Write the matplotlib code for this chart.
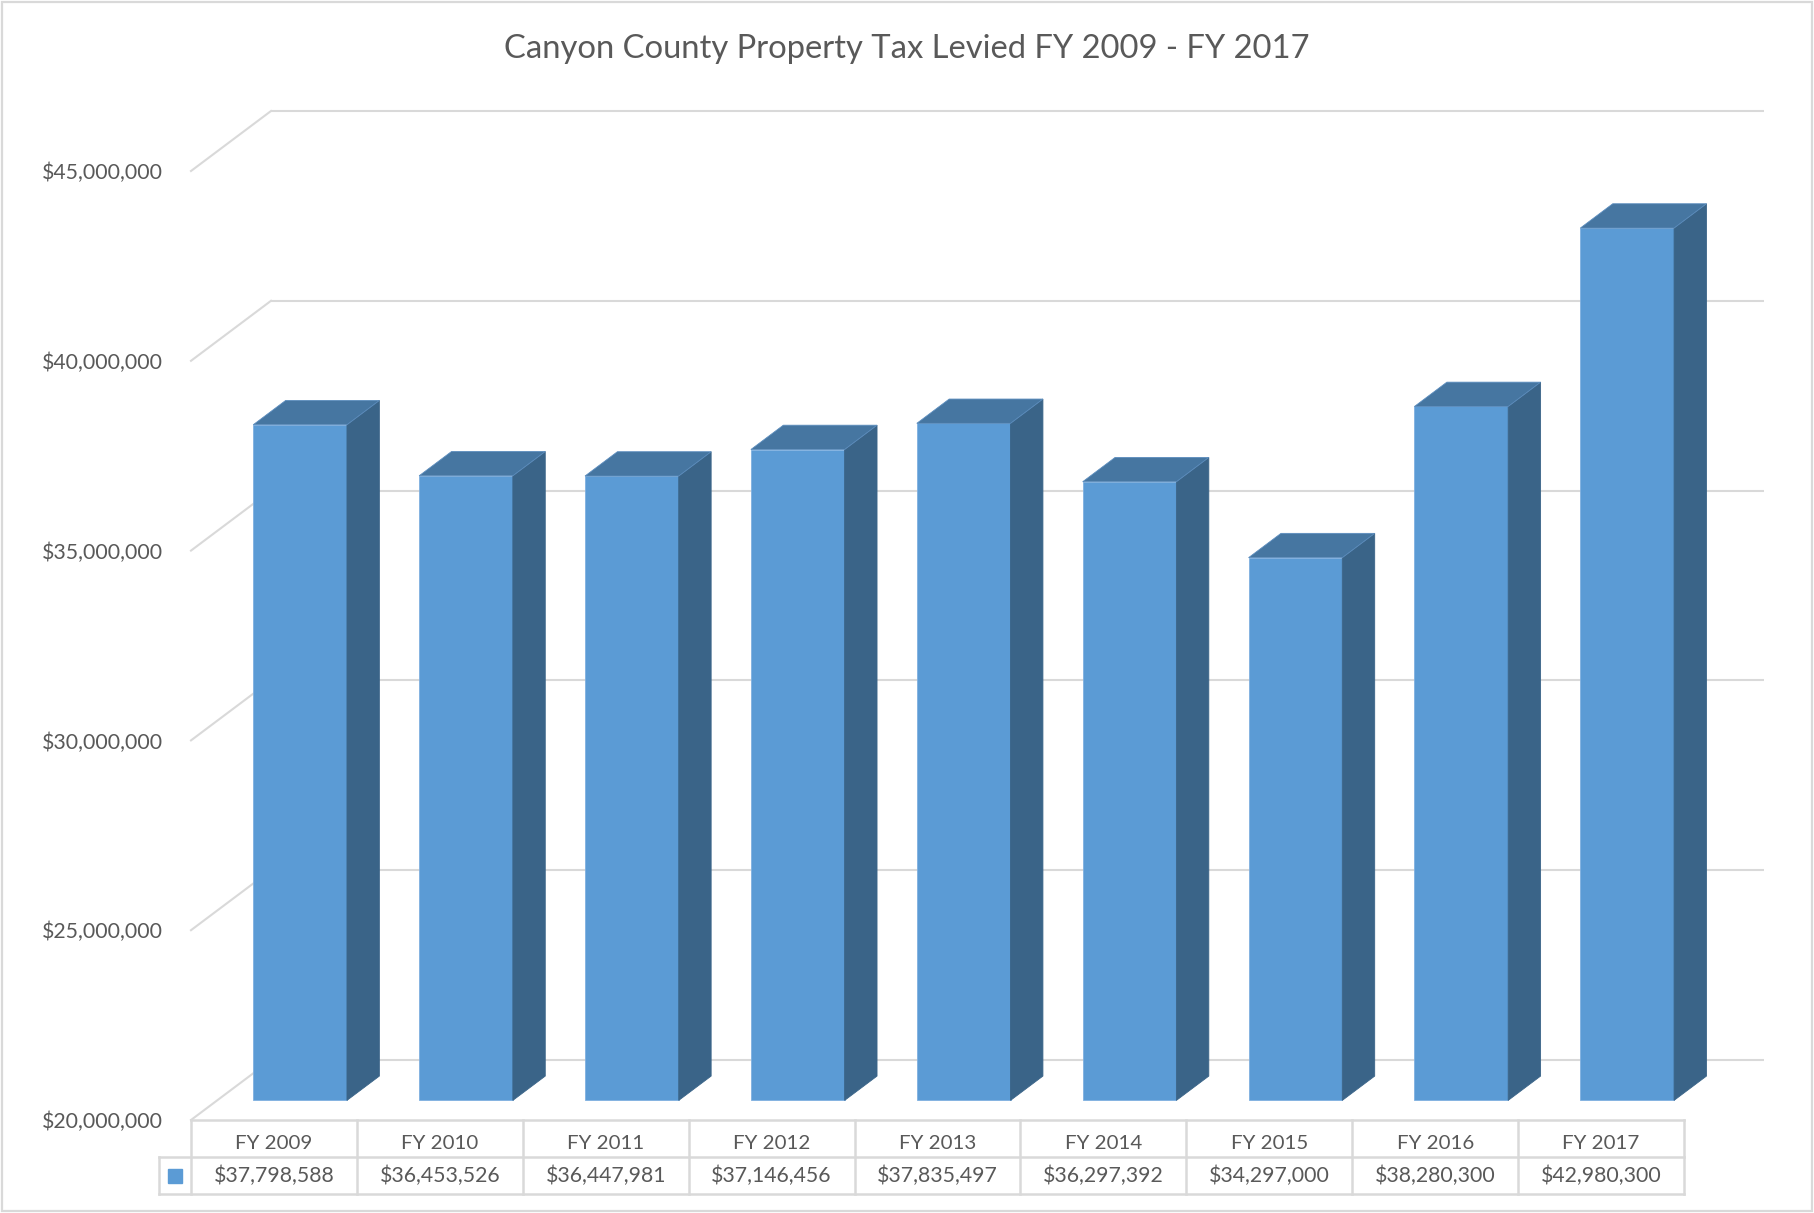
import matplotlib
matplotlib.use("Agg")
import matplotlib.pyplot as plt
from matplotlib.patches import Polygon, Rectangle
from matplotlib.transforms import offset_copy

# ---------------- data ----------------
title = "Canyon County Property Tax Levied FY 2009 - FY 2017"
categories = ["FY 2009", "FY 2010", "FY 2011", "FY 2012", "FY 2013",
              "FY 2014", "FY 2015", "FY 2016", "FY 2017"]
values = [37798588, 36453526, 36447981, 37146456, 37835497,
          36297392, 34297000, 38280300, 42980300]
value_labels = ["$37,798,588", "$36,453,526", "$36,447,981", "$37,146,456",
                "$37,835,497", "$36,297,392", "$34,297,000", "$38,280,300",
                "$42,980,300"]
y_ticks = [20000000, 25000000, 30000000, 35000000, 40000000, 45000000]
y_tick_labels = ["$20,000,000", "$25,000,000", "$30,000,000",
                 "$35,000,000", "$40,000,000", "$45,000,000"]

# ---------------- style ----------------
FONT = "Lato"
TXT = "#595959"
GRID = "#D9D9D9"
FRONT = "#5B9BD5"
SIDE = "#3A6488"
TOP = "#4676A1"

W, H = 1814, 1213
fig = plt.figure(figsize=(W / 100, H / 100), dpi=100)
fig.patch.set_facecolor("white")

L, R, B, T = 191, 1684, 1120, 171   # pixel frame of the front plane
ax = fig.add_axes([L / W, 1 - B / H, (R - L) / W, (B - T) / H])
ax.set_xlim(-0.5, len(categories) - 0.5)
ax.set_ylim(y_ticks[0], y_ticks[-1])
ax.axis("off")

xpp = (len(categories)) / (R - L)               # data x per pixel
ypp = (y_ticks[-1] - y_ticks[0]) / (B - T)       # data y per pixel
DX, DY = 80 * xpp, 60 * ypp                     # full depth of the floor
F0, FD = 0.327, 0.405                           # bar depth start / thickness
BW = 0.565
ROW = 37 * ypp
LEG = 32.5 * xpp
x0, x1 = -0.5, len(categories) - 0.5
ybase = y_ticks[0]

renderer = fig.canvas.get_renderer()


def fit(text, target_px):
    t = fig.text(0, 0, text, fontsize=20, family=FONT)
    w = t.get_window_extent(renderer).width
    t.remove()
    return 20 * target_px / w


fs_tick = fit("$45,000,000", 121)
fs_cat = fit("FY 2009", 77)
fs_title = fit(title, 808)

glw = 1.5
# back wall and left wall grid
for v in y_ticks:
    ax.plot([x0 + DX, x1 + DX], [v + DY, v + DY], color=GRID, lw=glw,
            zorder=1, clip_on=False, solid_capstyle="butt")
    ax.plot([x0, x0 + DX], [v, v + DY], color=GRID, lw=glw, zorder=1,
            clip_on=False)

# bars
for i, v in enumerate(values):
    xl = i - BW / 2 + F0 * DX
    xr = xl + BW
    yb = ybase + F0 * DY
    yt = v + F0 * DY
    ax.add_patch(Rectangle((xl, yb), BW, yt - yb, facecolor=FRONT,
                           edgecolor="#7FB0E0", lw=0.6, zorder=3,
                           clip_on=False))
    ax.add_patch(Polygon([(xr, yb), (xr + FD * DX, yb + FD * DY),
                          (xr + FD * DX, yt + FD * DY), (xr, yt)],
                         closed=True, facecolor=SIDE, edgecolor=SIDE,
                         lw=0.6, zorder=3, clip_on=False))
    ax.add_patch(Polygon([(xl, yt), (xr, yt), (xr + FD * DX, yt + FD * DY),
                          (xl + FD * DX, yt + FD * DY)],
                         closed=True, facecolor=TOP, edgecolor="#5C8DBE",
                         lw=0.6, zorder=3, clip_on=False))

# y tick labels
tr = offset_copy(ax.transData, fig=fig, x=-28, y=-2, units="dots")
for v, lab in zip(y_ticks, y_tick_labels):
    ax.text(x0, v, lab, transform=tr, ha="right", va="center",
            fontsize=fs_tick, color=TXT, family=FONT, clip_on=False)

# data table
tlw = 1.8
y1 = ybase - ROW
y2 = ybase - 2 * ROW
ax.plot([x0, x1], [ybase, ybase], color=GRID, lw=tlw, clip_on=False, zorder=2)
for yy in (y1, y2):
    ax.plot([x0 - LEG, x1], [yy, yy], color=GRID, lw=tlw, clip_on=False,
            zorder=2)
for k in range(len(categories) + 1):
    ax.plot([x0 + k, x0 + k], [y2, ybase], color=GRID, lw=tlw,
            clip_on=False, zorder=2)
ax.plot([x0 - LEG, x0 - LEG], [y2, y1], color=GRID, lw=tlw, clip_on=False,
        zorder=2)
cat_tr = offset_copy(ax.transData, fig=fig, x=0, y=-5, units="dots")
for i, (c, lab) in enumerate(zip(categories, value_labels)):
    ax.text(i, ybase - ROW / 2, c, transform=cat_tr, ha="center",
            va="center", fontsize=fs_cat, color=TXT, family=FONT,
            clip_on=False)
    ax.text(i, ybase - 1.5 * ROW, lab, ha="center", va="center",
            fontsize=fs_tick, color=TXT, family=FONT, clip_on=False)
ax.plot([x0 - LEG / 2], [ybase - 1.5 * ROW], marker="s", markersize=10,
        color=FRONT, clip_on=False, zorder=4)

# title
fig.text(0.5, 1 - 49 / H, title, ha="center", va="center",
         fontsize=fs_title, color=TXT, family=FONT)

# chart border
fig.patches.append(Rectangle((2 / W, 2 / H), 1 - 4 / W, 1 - 4 / H,
                             transform=fig.transFigure, fill=False,
                             edgecolor=GRID, lw=1.6))

fig.savefig("out.png", dpi=100, facecolor="white")
